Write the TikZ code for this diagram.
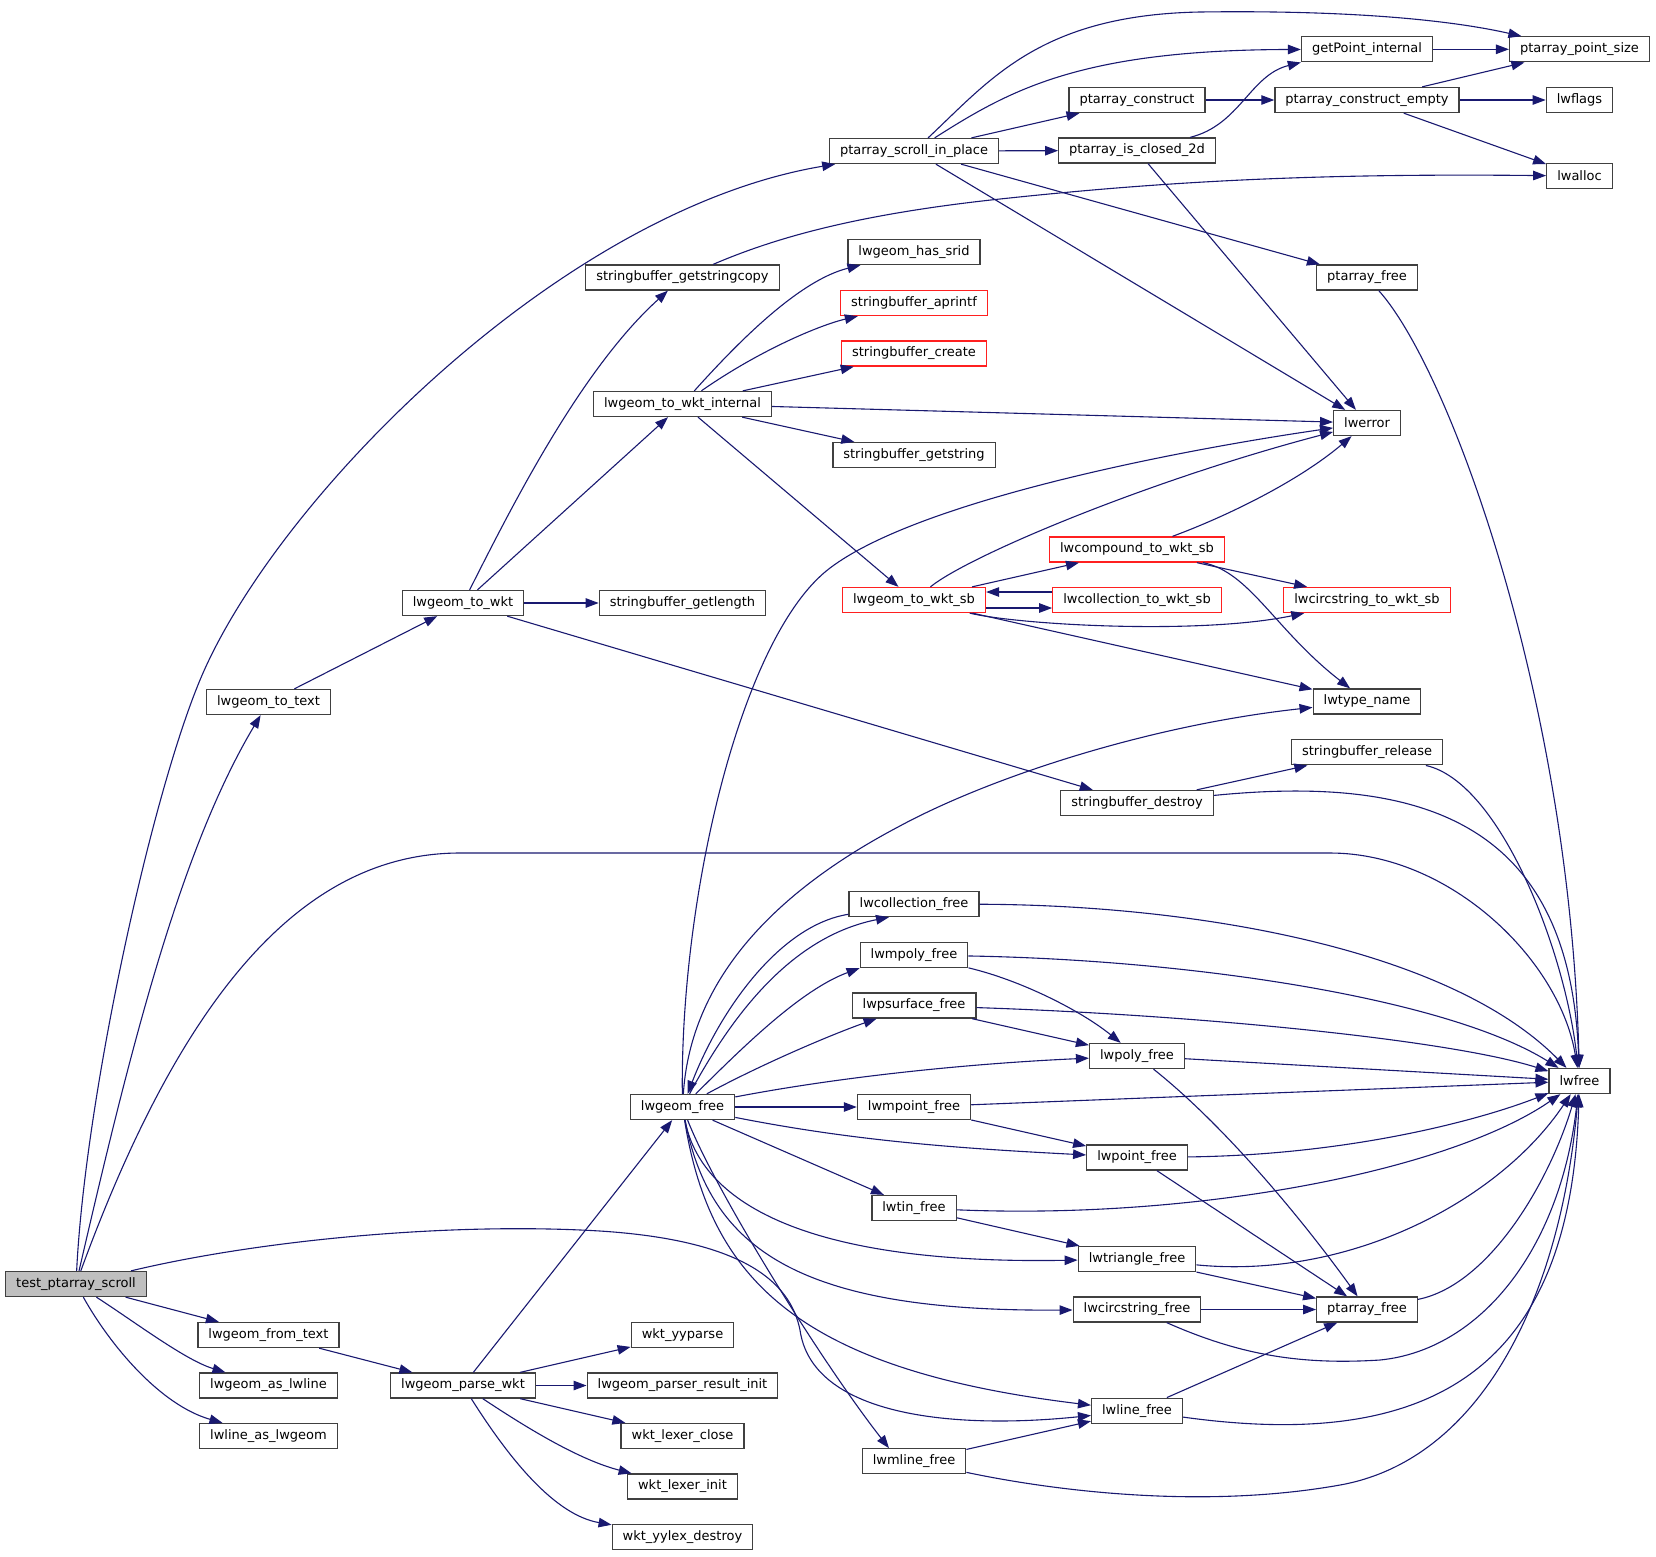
\documentclass[tikz,border=0pt]{standalone}
\usepackage{fontspec}
\setmainfont{DejaVu Sans}
\usetikzlibrary{arrows.meta}
\definecolor{edgeblue}{HTML}{191970}
\definecolor{boxgrey}{HTML}{404040}
\definecolor{rootgrey}{HTML}{BFBFBF}
\definecolor{boxred}{HTML}{FF2020}
\begin{document}
\begin{tikzpicture}[x=1pt,y=-1pt,
  fn/.style={draw=boxgrey,line width=1.3pt,fill=white,inner xsep=10.5pt,inner ysep=0pt,minimum height=25pt,font=\fontsize{13}{15}\selectfont},
  fnred/.style={fn,draw=boxred},
  fnroot/.style={fn,fill=rootgrey},
  callarrow/.style={edgeblue,line width=1.1pt,-{Triangle[length=13pt,width=9.5pt]}}]
\useasboundingbox (0,0) rectangle (1656,1556);
% vertices
\node[fnroot] (test) at (76,1284) {test\_ptarray\_scroll};
\node[fn] (totext) at (268.5,702) {lwgeom\_to\_text};
\node[fn] (fromtext) at (268.5,1335) {lwgeom\_from\_text};
\node[fn] (aslwline) at (268.5,1385.5) {lwgeom\_as\_lwline};
\node[fn] (aslwgeom) at (268.5,1436) {lwline\_as\_lwgeom};
\node[fn] (towkt) at (463,603) {lwgeom\_to\_wkt};
\node[fn] (parsewkt) at (463,1385.5) {lwgeom\_parse\_wkt};
\node[fn] (getstrcopy) at (682.5,277.5) {stringbuffer\_getstringcopy};
\node[fn] (wktint) at (682.5,404) {lwgeom\_to\_wkt\_internal};
\node[fn] (getlength) at (682.5,603) {stringbuffer\_getlength};
\node[fn] (geomfree) at (682.5,1107) {lwgeom\_free};
\node[fn] (yyparse) at (682.5,1335) {wkt\_yyparse};
\node[fn] (resinit) at (682.5,1385.5) {lwgeom\_parser\_result\_init};
\node[fn] (lexclose) at (682.5,1436) {wkt\_lexer\_close};
\node[fn] (lexinit) at (682.5,1486.5) {wkt\_lexer\_init};
\node[fn] (yylexdestroy) at (682.5,1537) {wkt\_yylex\_destroy};
\node[fn] (scroll) at (914,151) {ptarray\_scroll\_in\_place};
\node[fn] (hassrid) at (914,252) {lwgeom\_has\_srid};
\node[fnred] (aprintf) at (914,303) {stringbuffer\_aprintf};
\node[fnred] (sbcreate) at (914,353.5) {stringbuffer\_create};
\node[fn] (getstr) at (914,455) {stringbuffer\_getstring};
\node[fnred] (wktsb) at (914,600) {lwgeom\_to\_wkt\_sb};
\node[fn] (collfree) at (914,904) {lwcollection\_free};
\node[fn] (mpolyfree) at (914,955) {lwmpoly\_free};
\node[fn] (psurffree) at (914,1005.5) {lwpsurface\_free};
\node[fn] (mpointfree) at (914,1107) {lwmpoint\_free};
\node[fn] (tinfree) at (914,1208) {lwtin\_free};
\node[fn] (mlinefree) at (914,1461.3) {lwmline\_free};
\node[fn] (construct) at (1137,100) {ptarray\_construct};
\node[fn] (isclosed) at (1137,150.5) {ptarray\_is\_closed\_2d};
\node[fnred] (compoundsb) at (1137,549.5) {lwcompound\_to\_wkt\_sb};
\node[fnred] (collsb) at (1137,600) {lwcollection\_to\_wkt\_sb};
\node[fn] (sbdestroy) at (1137,803) {stringbuffer\_destroy};
\node[fn] (polyfree) at (1137,1056) {lwpoly\_free};
\node[fn] (pointfree) at (1137,1157.5) {lwpoint\_free};
\node[fn] (trifree) at (1137,1259) {lwtriangle\_free};
\node[fn] (circfree) at (1137,1309.5) {lwcircstring\_free};
\node[fn] (linefree) at (1137,1410.7) {lwline\_free};
\node[fn] (getpoint) at (1367,49.3) {getPoint\_internal};
\node[fn] (constructempty) at (1367,100) {ptarray\_construct\_empty};
\node[fn] (ptfreetop) at (1367,277.5) {ptarray\_free};
\node[fn] (lwerror) at (1367,423) {lwerror};
\node[fnred] (circsb) at (1367,600) {lwcircstring\_to\_wkt\_sb};
\node[fn] (typename) at (1367,701.5) {lwtype\_name};
\node[fn] (sbrelease) at (1367,752.3) {stringbuffer\_release};
\node[fn] (ptfreebot) at (1367,1309.5) {ptarray\_free};
\node[fn] (pointsize) at (1579.5,49.3) {ptarray\_point\_size};
\node[fn] (lwflags) at (1579.5,100) {lwflags};
\node[fn] (lwalloc) at (1579.5,176) {lwalloc};
\node[fn] (lwfree) at (1579.5,1081) {lwfree};
% edges
% test_ptarray_scroll
\draw[callarrow] (test) .. controls (85,1100) and (150,800) .. (200,680) .. controls (275,500) and (560,210) .. (scroll);
\draw[callarrow] (test) .. controls (130,1050) and (180,850) .. (totext);
\draw[callarrow] (test) .. controls (180,1000) and (300,853) .. (460,853) -- (1330,853) .. controls (1450,853) and (1560,960) .. (lwfree);
\draw[callarrow] (test) .. controls (260,1240) and (450,1222) .. (600,1231) .. controls (740,1240) and (790,1280) .. (800,1330) .. controls (812,1415) and (950,1430) .. (linefree);
\draw[callarrow] (test) -- (fromtext);
\draw[callarrow] (test) .. controls (135,1322) and (185,1360) .. (aslwline);
\draw[callarrow] (test) .. controls (110,1345) and (160,1405) .. (aslwgeom);
% to text / wkt
\draw[callarrow] (totext) -- (towkt);
\draw[callarrow] (towkt) .. controls (510,510) and (580,370) .. (getstrcopy);
\draw[callarrow] (towkt) -- (wktint);
\draw[callarrow] (towkt) -- (getlength);
\draw[callarrow] (towkt) -- (sbdestroy);
\draw[callarrow] (getstrcopy) .. controls (770,240) and (850,215) .. (1000,199) .. controls (1150,183) and (1300,173) .. (lwalloc);
\draw[callarrow] (wktint) .. controls (740,340) and (800,280) .. (hassrid);
\draw[callarrow] (wktint) .. controls (760,350) and (820,325) .. (aprintf);
\draw[callarrow] (wktint) -- (sbcreate);
\draw[callarrow] (wktint) -- (lwerror);
\draw[callarrow] (wktint) -- (getstr);
\draw[callarrow] (wktint) -- (wktsb);
% ptarray_scroll_in_place
\draw[callarrow] (scroll) .. controls (990,80) and (1040,15) .. (1200,12) .. controls (1350,10) and (1450,20) .. (pointsize);
\draw[callarrow] (scroll) .. controls (1010,90) and (1080,50) .. (getpoint);
\draw[callarrow] (scroll) -- (construct);
\draw[callarrow] (scroll) -- (isclosed);
\draw[callarrow] (scroll) -- (lwerror);
\draw[callarrow] (scroll) -- (ptfreetop);
\draw[callarrow] (construct) -- (constructempty);
\draw[callarrow] (constructempty) -- (pointsize);
\draw[callarrow] (constructempty) -- (lwflags);
\draw[callarrow] (constructempty) -- (lwalloc);
\draw[callarrow] (getpoint) -- (pointsize);
\draw[callarrow] (isclosed) .. controls (1240,125) and (1250,75) .. (getpoint.south west);
\draw[callarrow] (isclosed) -- (lwerror);
\draw[callarrow] (ptfreetop) .. controls (1450,370) and (1570,700) .. (lwfree);
% wkt_sb
\draw[callarrow] (wktsb) .. controls (970,555) and (1150,480) .. (lwerror);
\draw[callarrow] (wktsb) -- (compoundsb);
\draw[callarrow] ([yshift=-8pt]wktsb.east) -- ([yshift=-8pt]collsb.west);
\draw[callarrow] ([yshift=8pt]collsb.west) -- ([yshift=8pt]wktsb.east);
\draw[callarrow] (wktsb) .. controls (1020,625) and (1200,635) .. (circsb);
\draw[callarrow] (wktsb) -- (typename);
\draw[callarrow] (compoundsb) .. controls (1230,515) and (1300,480) .. (lwerror);
\draw[callarrow] (compoundsb) -- (circsb);
\draw[callarrow] (compoundsb) .. controls (1250,572) and (1275,630) .. (typename);
\draw[callarrow] (sbdestroy) -- (sbrelease);
\draw[callarrow] (sbdestroy) .. controls (1420,775) and (1570,820) .. (lwfree);
\draw[callarrow] (sbrelease) .. controls (1500,782) and (1565,950) .. (lwfree);
% parser
\draw[callarrow] (fromtext) -- (parsewkt);
\draw[callarrow] (parsewkt) -- (geomfree);
\draw[callarrow] (parsewkt) -- (yyparse);
\draw[callarrow] (parsewkt) -- (resinit);
\draw[callarrow] (parsewkt) -- (lexclose);
\draw[callarrow] (parsewkt) .. controls (530,1430) and (580,1460) .. (lexinit);
\draw[callarrow] (parsewkt) .. controls (510,1460) and (555,1515) .. (yylexdestroy);
% lwgeom_free
\draw[callarrow] (geomfree) .. controls (680,900) and (740,636) .. (830,568) .. controls (920,500) and (1180,450) .. (lwerror);
\draw[callarrow] (geomfree) .. controls (690,990) and (760,900) .. (898,827) .. controls (990,777) and (1150,725) .. (typename);
\draw[callarrow] (geomfree) .. controls (740,1000) and (800,935) .. ([xshift=-25pt]collfree.south);
\draw[callarrow] (collfree) .. controls (780,925) and (720,1010) .. (geomfree);
\draw[callarrow] (geomfree) .. controls (740,1050) and (800,990) .. (mpolyfree.south west);
\draw[callarrow] (geomfree) .. controls (760,1065) and (830,1035) .. (psurffree);
\draw[callarrow] (geomfree) .. controls (850,1075) and (980,1063) .. (polyfree);
\draw[callarrow] (geomfree) -- (mpointfree);
\draw[callarrow] (geomfree) .. controls (850,1140) and (950,1148) .. (pointfree);
\draw[callarrow] (geomfree) -- (tinfree);
\draw[callarrow] (geomfree) .. controls (700,1200) and (800,1265) .. (trifree);
\draw[callarrow] (geomfree) .. controls (710,1250) and (800,1312) .. (circfree);
\draw[callarrow] (geomfree) .. controls (710,1280) and (800,1370) .. (linefree);
\draw[callarrow] (geomfree) .. controls (715,1190) and (820,1360) .. ([xshift=-25pt]mlinefree.north);
% free functions
\draw[callarrow] (collfree) .. controls (1200,905) and (1450,950) .. (lwfree);
\draw[callarrow] (mpolyfree) .. controls (1200,960) and (1450,1000) .. (lwfree);
\draw[callarrow] (mpolyfree) .. controls (1020,980) and (1080,1010) .. (polyfree);
\draw[callarrow] (psurffree) .. controls (1200,1015) and (1450,1040) .. (lwfree);
\draw[callarrow] (psurffree) -- (polyfree);
\draw[callarrow] (polyfree) -- (lwfree);
\draw[callarrow] (polyfree) .. controls (1230,1130) and (1310,1230) .. (ptfreebot);
\draw[callarrow] (mpointfree) -- (lwfree);
\draw[callarrow] (mpointfree) -- (pointfree);
\draw[callarrow] (pointfree) .. controls (1350,1155) and (1480,1120) .. (lwfree);
\draw[callarrow] (pointfree) -- (ptfreebot);
\draw[callarrow] (tinfree) .. controls (1200,1220) and (1450,1170) .. (lwfree);
\draw[callarrow] (tinfree) -- (trifree);
\draw[callarrow] (trifree) .. controls (1350,1280) and (1500,1200) .. (lwfree);
\draw[callarrow] (trifree) -- (ptfreebot);
\draw[callarrow] (circfree) -- (ptfreebot);
\draw[callarrow] (circfree) .. controls (1240,1355) and (1300,1365) .. (1380,1360) .. controls (1480,1350) and (1560,1250) .. (lwfree);
\draw[callarrow] (linefree) -- (ptfreebot);
\draw[callarrow] (linefree) .. controls (1420,1450) and (1570,1380) .. (lwfree);
\draw[callarrow] (mlinefree) -- (linefree);
\draw[callarrow] (mlinefree) .. controls (1050,1490) and (1200,1510) .. (1340,1485) .. controls (1480,1460) and (1560,1300) .. (lwfree);
\draw[callarrow] (ptfreebot) .. controls (1490,1285) and (1550,1180) .. (lwfree);
\end{tikzpicture}
\end{document}
